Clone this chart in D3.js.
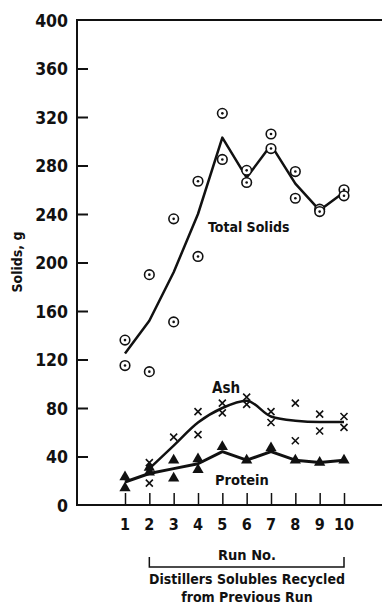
<!DOCTYPE html>
<html>
<head>
<meta charset="utf-8">
<script src="https://cdn.jsdelivr.net/npm/d3@7"></script>
<style>
  body { margin: 0; background: #fff; }
  svg { display: block; }
  text { font-family: "Liberation Sans Narrow", "DejaVu Sans Condensed", sans-serif; font-weight: bold; fill: #111; }
</style>
</head>
<body>
<div id="chart"></div>
<script>
const width = 382;
const height = 606;

// Runs and y ticks
const runs = [1, 2, 3, 4, 5, 6, 7, 8, 9, 10];
const yTicks = [0, 40, 80, 120, 160, 200, 240, 280, 320, 360, 400];

// Total solids: observed points [run, value] and fitted line
const solidsPoints = [
  [1, 136], [1, 115], [2, 190], [2, 110], [3, 236], [3, 151],
  [4, 267], [4, 205], [5, 323], [5, 285], [6, 276], [6, 266],
  [7, 306], [7, 294], [8, 275], [8, 253], [9, 244], [9, 242],
  [10, 260], [10, 255],
];
const solidsLine = [125, 152, 192, 240, 303, 270, 297, 265, 243, 258];

// Ash
const ashPoints = [
  [2, 35], [2, 18], [3, 56], [4, 77], [4, 58], [5, 84], [5, 76],
  [6, 89], [6, 83], [7, 77], [7, 68], [8, 84], [8, 53],
  [9, 75], [9, 61], [10, 73], [10, 64],
];
const ashLine = [null, 30, 49, 68, 80, 86, 73, 69.5, 68.5, 68.5];

// Protein
const proteinPoints = [
  [1, 23], [1, 14], [2, 31], [2, 27], [3, 37], [3, 22], [4, 38], [4, 29],
  [5, 48], [6, 37], [7, 47], [8, 37], [9, 35], [10, 37],
];
const proteinLine = [19, 26, 30, 34, 44, 37, 44, 37, 35, 37];

const svg = d3.select('#chart')
  .append('svg')
  .attr('width', width)
  .attr('height', height);

const x = d3.scaleLinear().domain([1, 10]).range([125, 344]);
const y = d3.scaleLinear().domain([0, 400]).range([505, 20]);
const left = 77;

// frame: left axis, top line, bottom axis
svg.append('path')
  .attr('d', `M${width},${y(400)}H${left}V${y(0)}H${width}`)
  .attr('fill', 'none')
  .attr('stroke', '#111')
  .attr('stroke-width', 2);

// y axis
const yAxis = svg.append('g')
  .attr('transform', `translate(${left},0)`)
  .call(d3.axisRight(y).tickValues(yTicks).tickSize(11).tickFormat(''));
yAxis.select('.domain').remove();
yAxis.selectAll('line').attr('stroke', '#111').attr('stroke-width', 2);
yAxis.selectAll('.tick').filter(d => d === 0 || d === 400).select('line').remove();

svg.append('g').selectAll('text')
  .data(yTicks)
  .join('text')
  .attr('x', 68)
  .attr('y', d => y(d) + 6.5)
  .attr('text-anchor', 'end')
  .style('font-size', '17.5px')
  .text(d => d);

// x axis ticks (pointing up)
const xAxis = svg.append('g')
  .attr('transform', `translate(0,${y(0)})`)
  .call(d3.axisTop(x).tickValues(runs).tickSize(12).tickFormat(''));
xAxis.select('.domain').remove();
xAxis.selectAll('line').attr('stroke', '#111').attr('stroke-width', 1.5);

svg.append('g').selectAll('text')
  .data(runs)
  .join('text')
  .attr('x', d => x(d))
  .attr('y', 530)
  .attr('text-anchor', 'middle')
  .style('font-size', '16px')
  .text(d => d);

// y label
svg.append('text')
  .attr('transform', `translate(22,262) rotate(-90)`)
  .attr('text-anchor', 'middle')
  .style('font-size', '14px')
  .text('Solids, g');

// run bracket and labels
svg.append('path')
  .attr('d', `M${x(2)},557V567H${x(10)}V557`)
  .attr('fill', 'none')
  .attr('stroke', '#111')
  .attr('stroke-width', 1.5);

svg.append('text').attr('x', 247).attr('y', 560).attr('text-anchor', 'middle')
  .style('font-size', '14.5px').text('Run No.');
svg.append('text').attr('x', 247).attr('y', 584).attr('text-anchor', 'middle')
  .style('font-size', '14px').text('Distillers Solubles Recycled');
svg.append('text').attr('x', 247).attr('y', 602).attr('text-anchor', 'middle')
  .style('font-size', '14px').text('from Previous Run');

// lines
const line = d3.line()
  .defined(d => d[1] != null)
  .x(d => x(d[0]))
  .y(d => y(d[1]));

svg.append('path')
  .datum(runs.map((r, i) => [r, solidsLine[i]]))
  .attr('d', line)
  .attr('fill', 'none').attr('stroke', '#111').attr('stroke-width', 2.5)
  .attr('stroke-linejoin', 'round');

svg.append('path')
  .datum(runs.map((r, i) => [r, ashLine[i]]))
  .attr('d', line.curve(d3.curveMonotoneX))
  .attr('fill', 'none').attr('stroke', '#111').attr('stroke-width', 2.5);

svg.append('path')
  .datum(runs.map((r, i) => [r, proteinLine[i]]))
  .attr('d', line.curve(d3.curveLinear))
  .attr('fill', 'none').attr('stroke', '#111').attr('stroke-width', 3)
  .attr('stroke-linejoin', 'round');

// total solids markers: circle with dot
const sol = svg.append('g').selectAll('g')
  .data(solidsPoints)
  .join('g')
  .attr('transform', d => `translate(${x(d[0])},${y(d[1])})`);
sol.append('circle').attr('r', 4.8).attr('fill', '#fff').attr('stroke', '#111').attr('stroke-width', 1.6);
sol.append('circle').attr('r', 1.3).attr('fill', '#111');

// ash markers: x
svg.append('g').selectAll('path')
  .data(ashPoints)
  .join('path')
  .attr('transform', d => `translate(${x(d[0])},${y(d[1])})`)
  .attr('d', 'M-3.5,-3.5L3.5,3.5M-3.5,3.5L3.5,-3.5')
  .attr('stroke', '#111').attr('stroke-width', 1.6);

// protein markers: filled triangles
svg.append('g').selectAll('path')
  .data(proteinPoints)
  .join('path')
  .attr('transform', d => `translate(${x(d[0])},${y(d[1])})`)
  .attr('d', d3.symbol(d3.symbolTriangle, 55))
  .attr('fill', '#111');

// series labels
svg.append('text').attr('x', 208).attr('y', 232).style('font-size', '14px').text('Total Solids');
svg.append('text').attr('x', 212).attr('y', 393).style('font-size', '15px').text('Ash');
svg.append('text').attr('x', 215).attr('y', 485).style('font-size', '14.5px').text('Protein');
</script>
</body>
</html>
